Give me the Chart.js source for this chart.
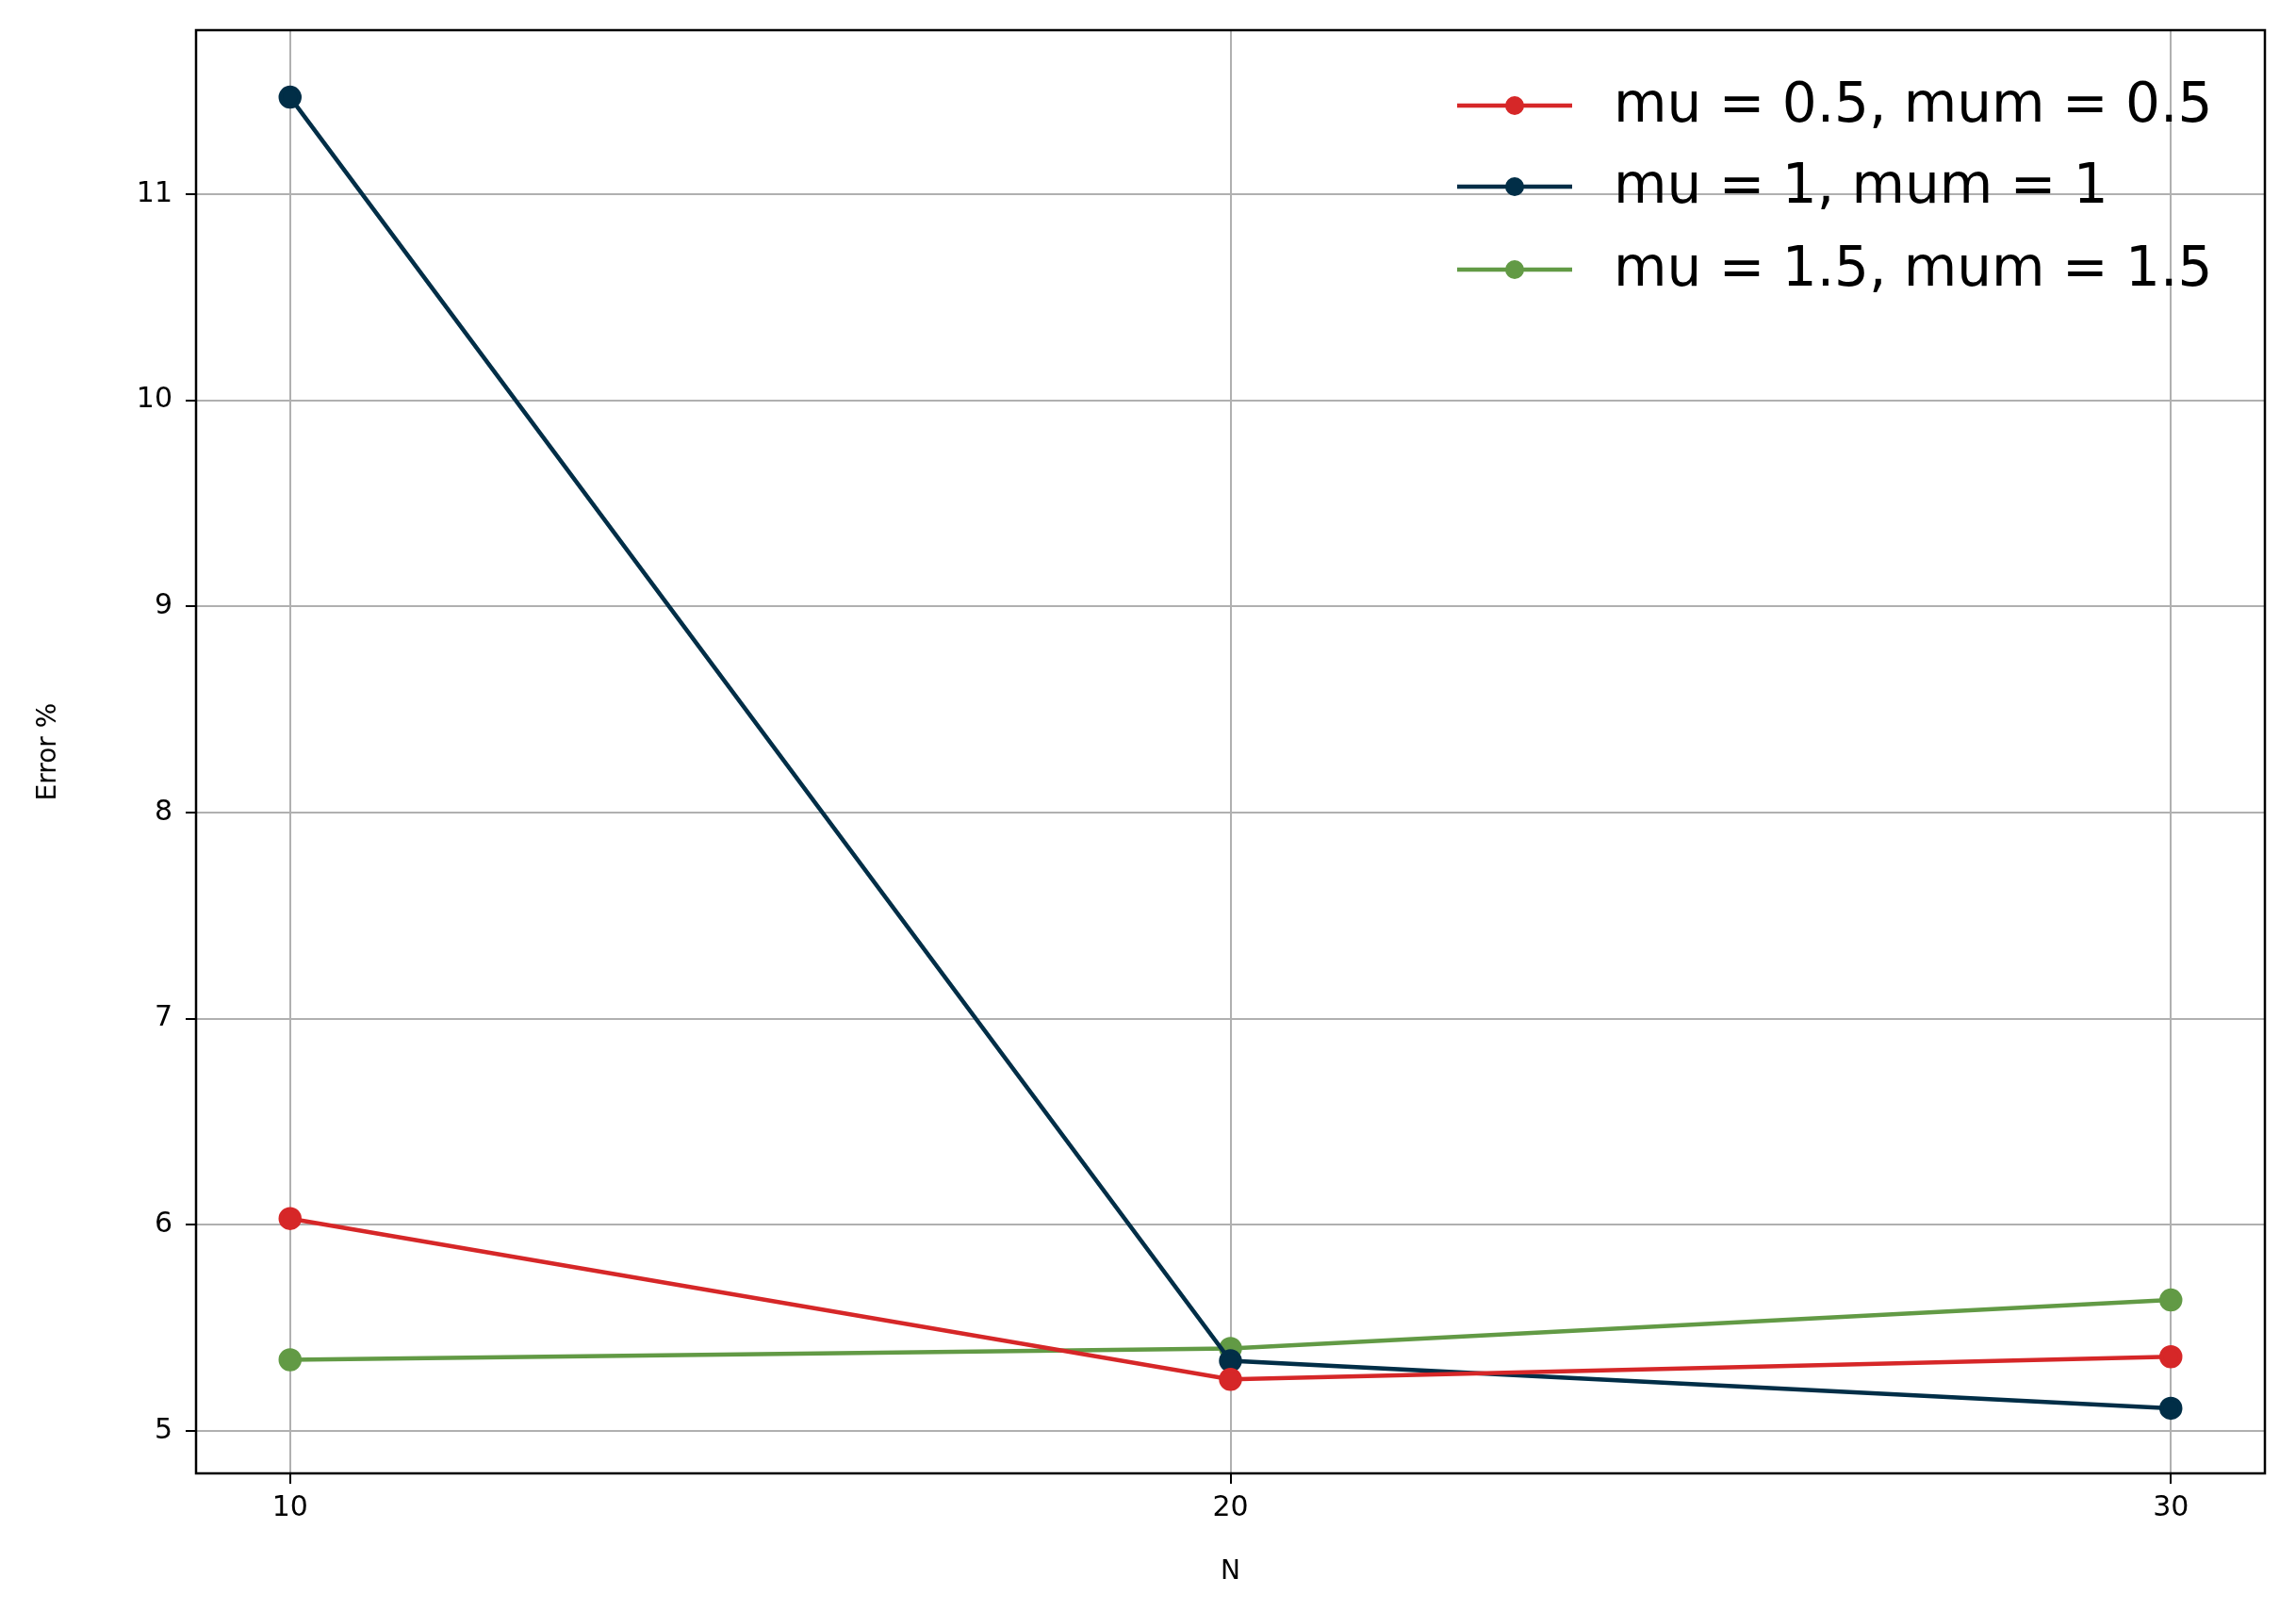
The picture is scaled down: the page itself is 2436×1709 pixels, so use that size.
<!DOCTYPE html>
<html><head><meta charset="utf-8">
<script src="https://cdn.jsdelivr.net/npm/chart.js@4/dist/chart.umd.min.js"></script>
<style>html,body{margin:0;padding:0;background:#fff}#w{width:2436px;height:1709px}</style>
</head><body><div id="w"><canvas id="c"></canvas></div>
<script>
const nValues = [10, 20, 30];
const labels = ["mu = 0.5, mum = 0.5", "mu = 1, mum = 1", "mu = 1.5, mum = 1.5"];
const seriesA = [6.03, 5.25, 5.36];
const seriesB = [11.47, 5.34, 5.11];
const seriesC = [5.345, 5.40, 5.635];
const colors = ["#d62728", "#012e47", "#629a45"];
const xTicks = [10, 20, 30];
const yTicks = [5, 6, 7, 8, 9, 10, 11];
const FONT = "'DejaVu Sans', sans-serif";
const all = [seriesA, seriesB, seriesC];
const datasets = all.map((s, i) => ({
  label: labels[i],
  data: s.map((v, j) => ({x: nValues[j], y: v})),
  borderColor: colors[i], backgroundColor: colors[i],
  borderWidth: 4.5, pointRadius: 10, pointHoverRadius: 10, tension: 0
}));
const overlay = {
  id: 'overlay',
  afterDraw(ch) {
    const ctx = ch.ctx, a = ch.chartArea;
    ctx.save();
    ctx.strokeStyle = '#000'; ctx.lineWidth = 2.5;
    ctx.strokeRect(a.left, a.top, a.right - a.left, a.bottom - a.top);
    ctx.fillStyle = '#000';
    ctx.font = '28px ' + FONT; ctx.textAlign = 'center'; ctx.textBaseline = 'middle';
    ctx.fillText('N', (a.left + a.right) / 2, 1668);
    ctx.translate(52, (a.top + a.bottom) / 2); ctx.rotate(-Math.PI / 2);
    ctx.fillText('Error %', 0, 0);
    ctx.restore();
    ctx.save();
    const rows = [112, 198, 286];
    ch.data.datasets.forEach((d, i) => {
      const y = rows[i];
      ctx.strokeStyle = d.borderColor; ctx.lineWidth = 4.5;
      ctx.beginPath(); ctx.moveTo(1546, y); ctx.lineTo(1668, y); ctx.stroke();
      ctx.fillStyle = d.borderColor;
      ctx.beginPath(); ctx.arc(1607, y, 10, 0, Math.PI * 2); ctx.fill();
      ctx.fillStyle = '#000'; ctx.font = '58px ' + FONT;
      ctx.textAlign = 'left'; ctx.textBaseline = 'middle';
      ctx.fillText(d.label, 1712, y + 2);
    });
    ctx.restore();
  }
};
new Chart(document.getElementById('c'), {
  type: 'line',
  data: {datasets},
  plugins: [overlay],
  options: {
    responsive: true, maintainAspectRatio: false, animation: false,
    layout: {padding: {top: 31, right: 33, left: 0, bottom: 0}},
    plugins: {legend: {display: false}, tooltip: {enabled: false}},
    scales: {
      x: {
        type: 'linear', min: 9, max: 31,
        afterBuildTicks: s => { s.ticks = xTicks.map(v => ({value: v})); },
        afterFit: s => { s.height = 146; },
        grid: {color: '#b0b0b0', lineWidth: 2, tickLength: 11, tickColor: '#000', drawTicks: true},
        border: {display: false},
        ticks: {color: '#000', font: {family: FONT, size: 30}, padding: 8, maxRotation: 0}
      },
      y: {
        min: 4.794, max: 11.795,
        afterBuildTicks: s => { s.ticks = yTicks.map(v => ({value: v})); },
        afterFit: s => { s.width = 208; },
        grid: {color: '#b0b0b0', lineWidth: 2, tickLength: 11, tickColor: '#000'},
        border: {display: false},
        ticks: {color: '#000', font: {family: FONT, size: 30}, padding: 14}
      }
    }
  }
});
</script></body></html>
